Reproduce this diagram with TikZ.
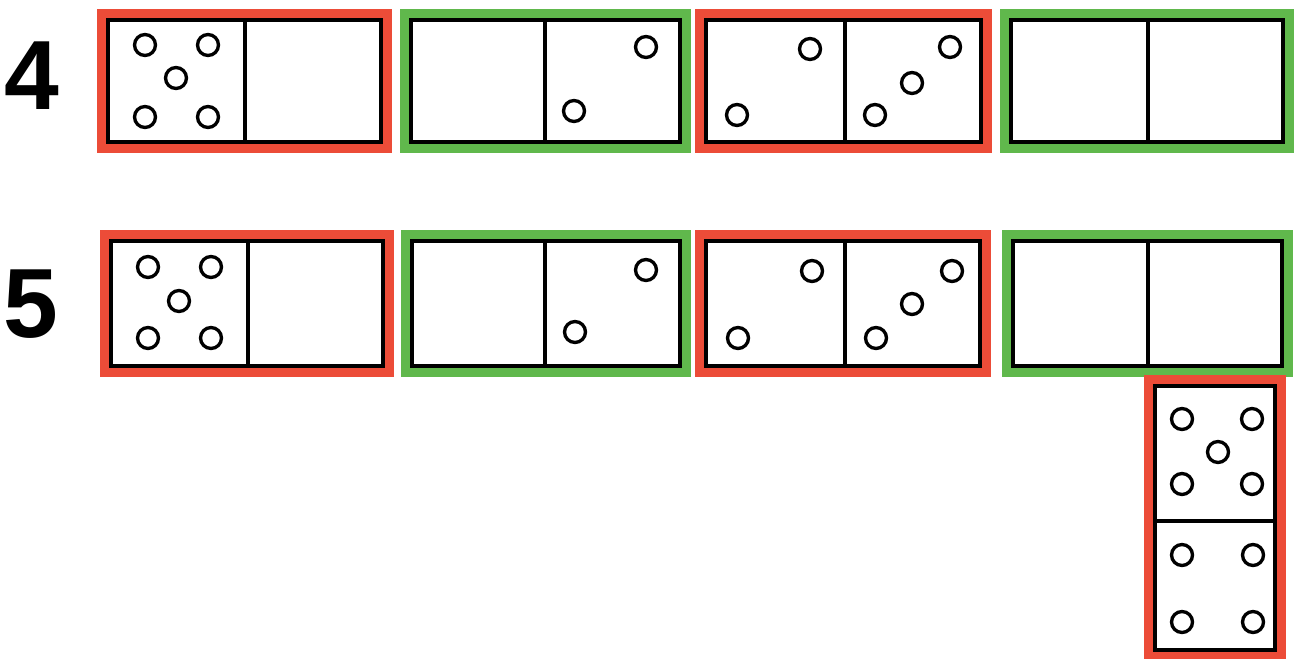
\documentclass[tikz,border=0pt]{standalone}
\usepackage{fontspec}
\setmainfont{Liberation Sans}
\definecolor{framered}{RGB}{236,76,56}
\definecolor{framegreen}{RGB}{96,184,76}

\begin{document}
\begin{tikzpicture}[x=0.02cm,y=-0.02cm,
    tile/.style={line width=2.2pt, line cap=rect},
    redframe/.style={draw=framered, line width=6.2pt},
    greenframe/.style={draw=framegreen, line width=6.2pt},
    pip/.style={line width=1.9pt},
    rowlabel/.style={font=\fontsize{56}{56}\selectfont\bfseries, inner sep=0pt}]
    \useasboundingbox (0,0) rectangle (1296,659);

    \node[rowlabel] (vier) at (32,76) {4};
    \node[rowlabel] (fuenf) at (31,304) {5};

    % liegende Steine: x1/y1/x2/y2/Trennlinie/Rahmen
    \foreach \xa/\ya/\xb/\yb/\d/\c in {
        108/20/381/142/245/redframe, 411/20/680/142/545/greenframe,
        706/20/981/142/845/redframe, 1011/20/1283/142/1148/greenframe,
        111/241/383/366/248/redframe, 412/241/680/366/545/greenframe,
        706/241/980/366/845/redframe, 1013/241/1282/366/1148/greenframe} {
        \draw[\c] (\xa-6,\ya-6) rectangle (\xb+6,\yb+6);
        \draw[tile] (\xa,\ya) rectangle (\xb,\yb);
        \draw[tile] (\d,\ya) -- (\d,\yb);
    }

    % stehender Stein
    \draw[redframe] (1149,380) rectangle (1281,656);
    \draw[tile] (1155,386) rectangle (1275,650);
    \draw[tile] (1155,521) -- (1275,521);

    % Augen
    \foreach \px/\py in {
        145/45, 208/45, 176/78, 145/117, 208/117,
        646/47, 574/111,
        810/49, 737/115, 950/47, 912/83, 875/115,
        148/267, 211/267, 179/301, 148/338, 211/338,
        646/270, 575/332,
        812/271, 738/338, 952/271, 912/304, 876/338,
        1182/419, 1252/419, 1218/452, 1182/484, 1252/484,
        1182/555, 1253/555, 1182/622, 1253/622}
        {\draw[pip] (\px,\py) circle[radius=0.21cm];}
\end{tikzpicture}
\end{document}
